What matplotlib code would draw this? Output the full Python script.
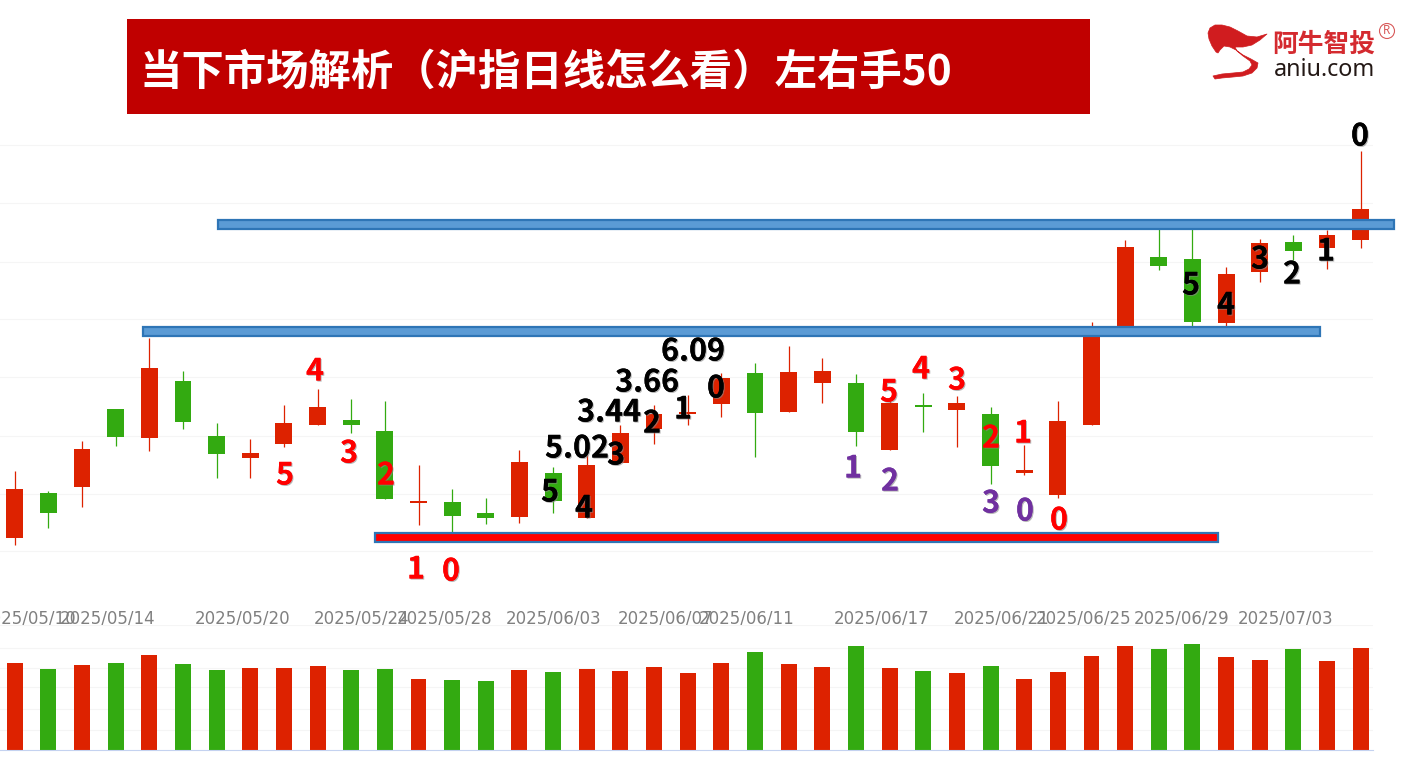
#coding=utf-8
import matplotlib
matplotlib.use("Agg")
import matplotlib.pyplot as plt
import matplotlib.patheffects as pe
from matplotlib.patches import Rectangle, Polygon, Circle

plt.rcParams['font.family'] = ['Noto Sans CJK SC', 'DejaVu Sans']

W, H = 1414, 768

# 日K数据, 从图上读的
opens = [3331.2, 3353.6, 3356.3, 3395.3, 3381.1, 3409.5, 3382, 3371, 3378.1, 3387.6, 3390.1, 3384.5, 3348.6, 3349,
         3343.5, 3341.6, 3363.3, 3341.1, 3368.5, 3385.5, 3392.8, 3397.8, 3413.5, 3393.8, 3408.6, 3408.5, 3375.1,
         3397.6, 3394.8, 3393.1, 3363.5, 3352.3, 3387.6, 3436, 3471.3, 3470.3, 3438.5, 3464.1, 3478.8, 3476, 3480.1]
closes = [3355.6, 3343.6, 3375.5, 3381.6, 3416, 3388.8, 3373, 3373.5, 3388.5, 3396.6, 3387.6, 3350.6, 3349.5, 3342.1,
          3341.1, 3368.8, 3349.6, 3367.3, 3383.5, 3392.8, 3394, 3411, 3393.3, 3414, 3414.5, 3384.1, 3398.3,
          3396.5, 3398.3, 3367.1, 3364.8, 3389.5, 3436, 3476.3, 3467.1, 3439, 3463.1, 3478.3, 3474.5, 3482.5, 3495.5]
highs = [3364.5, 3354.6, 3379.5, 3395.3, 3431.1, 3414.5, 3388.6, 3380.5, 3397.3, 3405.5, 3400.3, 3399.3, 3367.5, 3355.3,
         3351.1, 3375, 3366.5, 3372.5, 3387.5, 3397.5, 3402.5, 3413.5, 3418.5, 3427.1, 3421, 3413, 3399.5,
         3403.3, 3402, 3396.3, 3377.5, 3399.3, 3439, 3480, 3487.5, 3487.5, 3466.6, 3480.5, 3482.5, 3485, 3524.5]
lows = [3327.5, 3336.2, 3346.6, 3377, 3374.6, 3385.6, 3360.8, 3360.8, 3376.6, 3387.6, 3383.5, 3350.6, 3337.6, 3333.5,
        3338.1, 3338.6, 3343.6, 3341.1, 3368.5, 3378.1, 3387.5, 3391.6, 3371.6, 3393.8, 3398.3, 3377, 3375.1,
        3384, 3376.6, 3358, 3362.3, 3350.8, 3387.6, 3436, 3465.1, 3437.1, 3437.1, 3459.1, 3470, 3465.6, 3476]
volumes = [873, 810, 853, 873, 953, 863, 800, 820, 820, 840, 800, 810, 710, 700,
           690, 800, 780, 810, 790, 830, 770, 873, 983, 863, 830, 1043, 820,
           790, 770, 840, 710, 780, 943, 1043, 1013, 1063, 933, 903, 1013, 893, 1023]

price_grid = [3324.5, 3353, 3382, 3411.5, 3440.5, 3469, 3498.5, 3527.5]
vol_grid = [200, 415, 630, 820, 1020, 1250]

date_labels = ['2025/05/10', '2025/05/14', '2025/05/20', '2025/05/24', '2025/05/28', '2025/06/03', '2025/06/07',
               '2025/06/11', '2025/06/17', '2025/06/21', '2025/06/25', '2025/06/29', '2025/07/03']
date_px = [29, 108, 243, 362, 445, 554, 665, 747, 882, 1002, 1084, 1182, 1286]

mark_text = ['4', '3', '5', '2', '1', '0',
             '5.02', '3.44', '3.66', '6.09', '5', '4', '3', '2', '1', '0',
             '1', '2', '3', '0',
             '5', '4', '3', '2', '1', '0',
             '5', '4', '3', '2', '1', '0']
mark_x = [315, 349, 285, 386, 416, 451,
          577, 609, 647, 693, 550, 584, 616, 652, 683, 716,
          853, 890, 991, 1025,
          889, 921, 957, 991, 1023, 1059,
          1191, 1226, 1260, 1292, 1326, 1360]
mark_y = [369, 451, 473, 473, 567, 569,
          446, 410, 380, 349, 490, 506, 453, 421, 407, 386,
          466, 479, 501, 509,
          390, 367, 378, 436, 431, 518,
          283, 303, 257, 272, 249, 134]
mark_color = ['#ff0000'] * 6 + ['#000000'] * 10 + ['#7030a0'] * 4 + ['#ff0000'] * 6 + ['#000000'] * 6

RED = '#dd2200'
GREEN = '#33aa11'
GRID = '#f5f5f5'

# 蜡烛间距 33.65px, 第一根中心在 14.7px
X0, STEP = 14.7, 33.65
xs = list(range(len(opens)))
right_px = 1373


def px_to_idx(px):
    return (px - X0) / STEP


fig = plt.figure(figsize=(W / 100, H / 100), dpi=100, facecolor='white')


def make_axes(top, bottom):
    return fig.add_axes([0, 1 - bottom / H, right_px / W, (bottom - top) / H])


# K线图
ax = make_axes(114, 600)
ax.set_xlim(px_to_idx(0), px_to_idx(right_px))
ax.set_ylim(3600 - 600 / 2, 3600 - 114 / 2)
ax.set_yticks(price_grid)
ax.tick_params(left=False, labelleft=False, bottom=False)
ax.grid(axis='y', color=GRID, lw=0.75)
ax.set_axisbelow(True)
for s in ax.spines.values():
    s.set_visible(False)
ax.set_xticks([px_to_idx(p) for p in date_px])
ax.set_xticklabels(date_labels, color='#808080', fontsize=12, family=['DejaVu Sans'])
ax.tick_params(axis='x', pad=3)

colors = [RED if c >= o else GREEN for o, c in zip(opens, closes)]
ax.vlines(xs, lows, highs, colors=colors, lw=0.9, zorder=2)
for x, o, c, col in zip(xs, opens, closes, colors):
    ax.bar(x, abs(c - o), bottom=min(o, c), width=0.5, color=col, lw=0, zorder=3)

# 成交量
ax2 = make_axes(625, 750)
ax2.set_xlim(px_to_idx(0), px_to_idx(right_px))
ax2.set_ylim(0, 1250)
ax2.set_yticks(vol_grid)
ax2.set_xticks([])
ax2.tick_params(left=False, labelleft=False)
ax2.grid(axis='y', color=GRID, lw=0.75)
ax2.set_axisbelow(True)
for s in ['top', 'left', 'right']:
    ax2.spines[s].set_visible(False)
ax2.spines['bottom'].set_color('#c4d2f0')
ax2.bar(xs, volumes, width=0.475, color=colors, lw=0)

# 覆盖层: 标题, 水平线, 数字, logo, 用图片像素坐标
ov = fig.add_axes([0, 0, 1, 1], zorder=10)
ov.set_xlim(0, W)
ov.set_ylim(H, 0)
ov.axis('off')

ov.add_patch(Rectangle((127, 19), 963, 95, fc='#c00000', ec='none'))
ov.text(140, 73, '当下市场解析（沪指日线怎么看）左右手50', color='white', fontsize=30.5, fontweight='bold',
        va='center', ha='left')

for x0, x1, y0, y1, fc in [(217.5, 1394, 219.5, 229, '#5b9bd5'), (143, 1320, 326.5, 336, '#5b9bd5'),
                           (374.5, 1218, 532.5, 542, '#ff0000')]:
    ov.add_patch(Rectangle((x0, y0), x1 - x0, y1 - y0, fc=fc, ec='#2e75b6', lw=1.6))

shadow = [pe.withSimplePatchShadow(offset=(0.8, -0.8), shadow_rgbFace='#888888', alpha=0.6), pe.Normal()]
for t, x, y, c in zip(mark_text, mark_x, mark_y, mark_color):
    ov.text(x, y + 2.5, t, color=c, fontsize=22, fontweight='bold', ha='center', va='center',
            family=['Noto Sans CJK SC', 'DejaVu Sans'], path_effects=shadow)

# logo
swoosh = [(1267, 34), (1257, 37), (1247, 36), (1238, 31), (1230, 27), (1222, 25), (1215, 25), (1210, 28), (1208, 33),
          (1209, 39), (1212, 46), (1216, 52), (1218, 53), (1220, 50), (1224, 46), (1230, 47), (1236, 50), (1243, 55),
          (1251, 59), (1258, 63), (1257, 68), (1252, 73), (1243, 76), (1233, 77), (1222, 78), (1215, 79), (1213, 76),
          (1222, 74), (1233, 73), (1243, 72), (1249, 69), (1252, 65), (1250, 61), (1243, 56), (1237, 51), (1235, 47),
          (1243, 47), (1252, 45), (1260, 40)]
ov.add_patch(Polygon(swoosh, closed=True, fc='#d01c1f', ec='#d01c1f', lw=0.5, joinstyle='round'))
ov.text(1324, 44, '阿牛智投', color='#d42a2f', fontsize=18.5, fontweight='bold', ha='center', va='center')
ov.text(1324.5, 70, 'aniu.com', color='#231815', fontsize=16.8, ha='center', va='center',
        family=['Noto Sans', 'DejaVu Sans'])
ov.add_patch(Circle((1387, 31), 7.5, fc='none', ec='#d85a5a', lw=0.8))
ov.text(1387, 31, 'R', color='#d85a5a', fontsize=8.5, ha='center', va='center', family=['Noto Sans', 'DejaVu Sans'])

fig.savefig('out.png', dpi=100)
